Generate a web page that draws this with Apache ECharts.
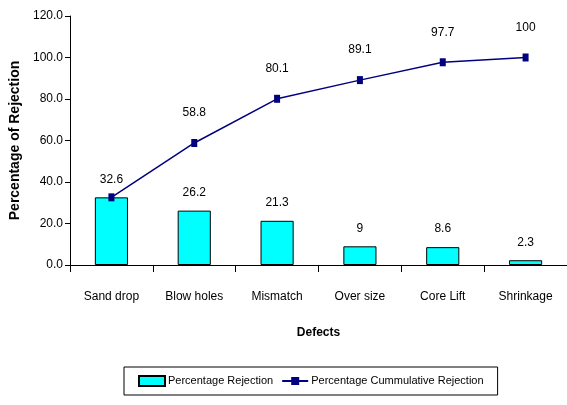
<!DOCTYPE html>
<html><head><meta charset="utf-8">
<script src="https://cdn.jsdelivr.net/npm/echarts@6/dist/echarts.min.js"></script>
<style>html,body{margin:0;padding:0;background:#fff}#c{width:567px;height:405px}</style>
</head><body><div id="c"></div>
<script>
const categories = ['Sand drop','Blow holes','Mismatch','Over size','Core Lift','Shrinkage'];
const rejection = [32.6, 26.2, 21.3, 9, 8.6, 2.3];
const cumulative = [32.6, 58.8, 80.1, 89.1, 97.7, 100];
const yTicks = [0, 20, 40, 60, 80, 100, 120];

const FONT = '"Liberation Sans", Arial, sans-serif';
const chart = echarts.init(document.getElementById('c'), null, {renderer: 'canvas'});
chart.setOption({
  animation: false,
  backgroundColor: '#fff',
  grid: {left: 66, right: 0, top: 16, bottom: 140, containLabel: false},
  legend: {
    top: 367, left: 124,
    borderColor: '#000', borderWidth: 1, borderRadius: 0,
    padding: [8, 14, 8, 14],
    itemGap: 8, itemWidth: 26, itemHeight: 10,
    textStyle: {fontFamily: FONT, fontSize: 11, color: '#000', padding: [0, 0, 0, -2]},
    data: [
      {name: 'Percentage Rejection', icon: 'rect'},
      {name: 'Percentage Cummulative Rejection'}
    ]
  },
  xAxis: {
    type: 'category', data: categories,
    name: 'Defects', nameLocation: 'middle', nameGap: 62,
    nameTextStyle: {fontFamily: FONT, fontWeight: 'bold', fontSize: 12, color: '#000'},
    axisLine: {lineStyle: {color: '#000', width: 1}},
    axisTick: {show: true, length: 7, lineStyle: {color: '#000'}},
    axisLabel: {fontFamily: FONT, fontSize: 12, color: '#000', margin: 26},
    splitLine: {show: false}
  },
  yAxis: {
    type: 'value', min: 0, max: 120, interval: 20,
    name: 'Percentage of Rejection', nameLocation: 'middle', nameGap: 48, nameRotate: 90,
    nameTextStyle: {fontFamily: FONT, fontWeight: 'bold', fontSize: 14, color: '#000'},
    axisLine: {show: true, lineStyle: {color: '#000', width: 1}},
    axisTick: {show: true, length: 5, lineStyle: {color: '#000'}},
    axisLabel: {fontFamily: FONT, fontSize: 12, color: '#000', margin: 7,
      formatter: v => yTicks.includes(v) ? v.toFixed(1) : ''},
    splitLine: {show: false}
  },
  series: [
    {
      name: 'Percentage Rejection', type: 'bar', barWidth: '40%',
      itemStyle: {color: '#00FFFF', borderColor: '#000', borderWidth: 1},
      label: {show: true, position: 'top', distance: 12, fontFamily: FONT, fontSize: 12, color: '#000'},
      data: rejection
    },
    {
      name: 'Percentage Cummulative Rejection', type: 'line',
      symbol: 'rect', symbolSize: [6, 8],
      lineStyle: {color: '#000080', width: 1.5},
      itemStyle: {color: '#000080'},
      label: {show: true, position: 'top', distance: 20, fontFamily: FONT, fontSize: 12, color: '#000'},
      data: cumulative.map((v, i) => i === 0 ? {value: v, label: {show: false}} : v)
    }
  ]
});
</script></body></html>
